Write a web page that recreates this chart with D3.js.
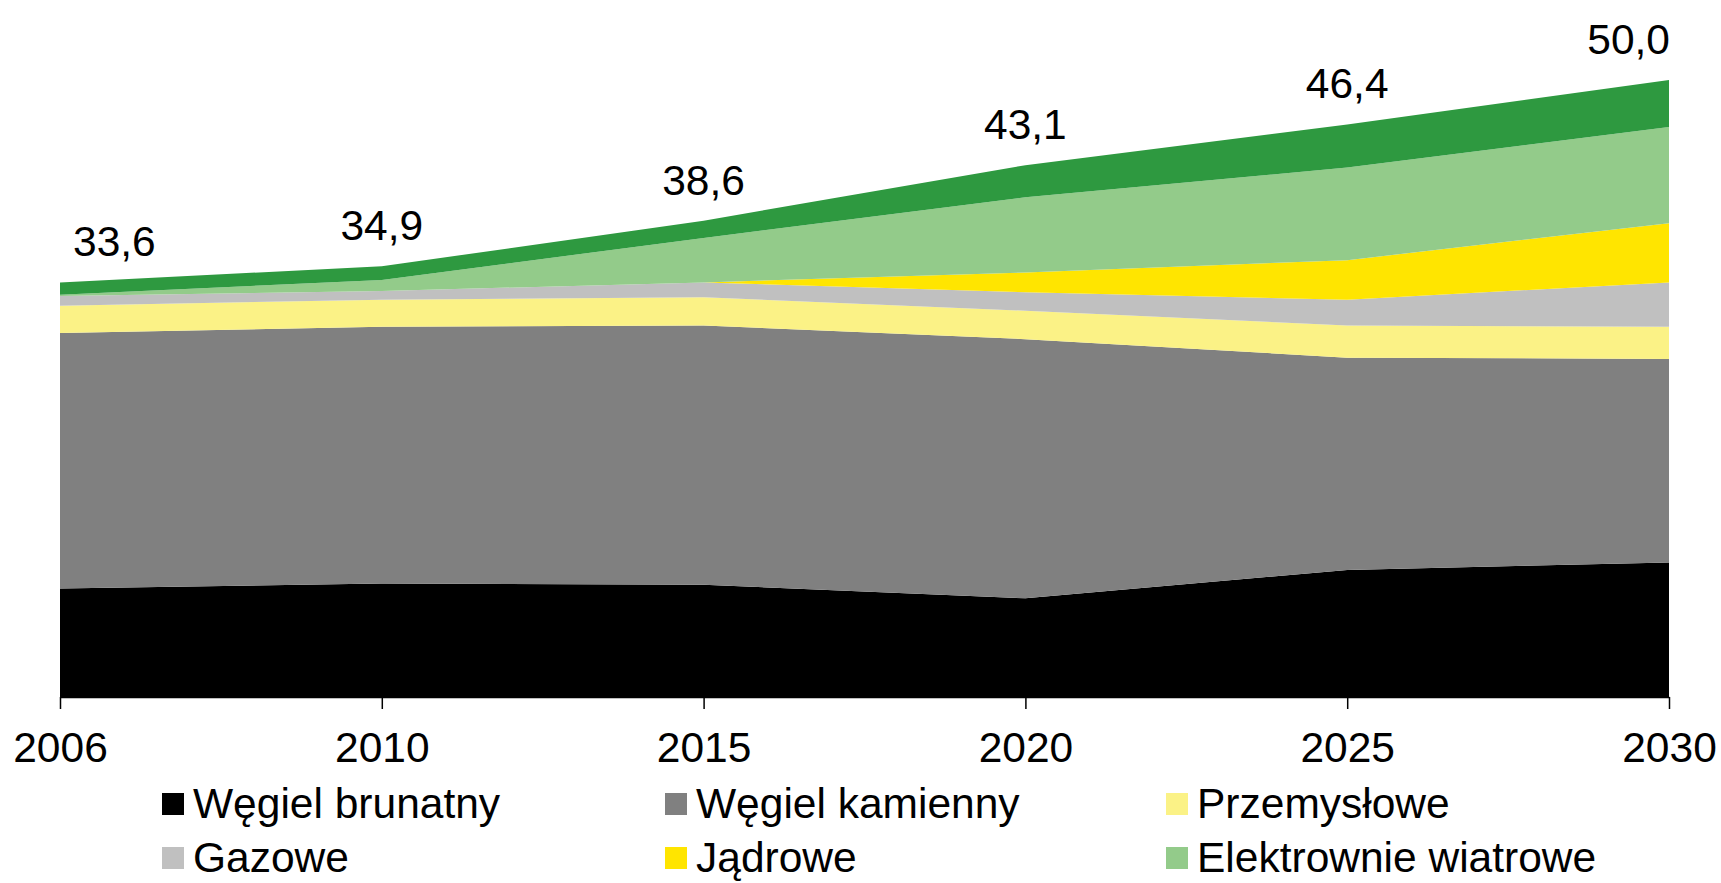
<!DOCTYPE html>
<html>
<head>
<meta charset="utf-8">
<script src="https://cdn.jsdelivr.net/npm/d3@7"></script>
<style>
    body { margin: 0; background: #fff; }
    svg { display: block; }
</style>
</head>
<body>
<div id="chart"></div>
<script>
    const years = ["2006", "2010", "2015", "2020", "2025", "2030"];
    const seriesNames = ["Węgiel brunatny", "Węgiel kamienny", "Przemysłowe", "Gazowe",
        "Jądrowe", "Elektrownie wiatrowe", "Pozostałe OZE"];
    const seriesColors = ["#000000", "#808080", "#fbf286", "#c0c0c0",
        "#ffe500", "#93cb8a", "#2e9940"];

    const wegielBrunatny = [8.8, 9.2, 9.1, 8.0, 10.3, 10.9];
    const wegielKamienny = [20.7, 20.8, 21.0, 21.0, 17.2, 16.5];
    const przemyslowe = [2.2, 2.2, 2.3, 2.3, 2.6, 2.6];
    const gazowe = [0.8, 0.7, 1.2, 1.5, 2.1, 3.6];
    const jadrowe = [0, 0, 0, 1.6, 3.2, 4.8];
    const wiatrowe = [0.1, 0.9, 3.6, 6.1, 7.5, 7.8];
    const pozostaleOze = [1.0, 1.1, 1.4, 2.6, 3.5, 3.8];
    const totalLabels = ["33,6", "34,9", "38,6", "43,1", "46,4", "50,0"];

    const seriesValues = [wegielBrunatny, wegielKamienny, przemyslowe, gazowe,
        jadrowe, wiatrowe, pozostaleOze];

    let width = 1721;
    let height = 883;
    let font = "'Liberation Sans', Arial, sans-serif";

    // one row per year, keys = series names
    let rows = years.map(function (year, i) {
        let row = { year: year };
        seriesNames.forEach(function (name, s) {
            row[name] = seriesValues[s][i];
        });
        return row;
    });

    let stacked = d3.stack().keys(seriesNames)(rows);

    let svg = d3.select("#chart").append("svg")
        .attr("width", width)
        .attr("height", height);

    let xScale = d3.scalePoint()
        .domain(years)
        .range([60, 1669]);

    let yScale = d3.scaleLinear()
        .domain([0, 50])
        .range([697, 80]);

    let area = d3.area()
        .x(function (d) { return xScale(d.data.year); })
        .y0(function (d) { return yScale(d[0]); })
        .y1(function (d) { return yScale(d[1]); });

    svg.selectAll(".layer")
        .data(stacked)
        .enter().append("path")
        .attr("class", "layer")
        .attr("fill", function (d, i) { return seriesColors[i]; })
        .attr("d", area);

    let xAxis = svg.append("g")
        .attr("class", "x-axis")
        .attr("transform", "translate(0," + yScale(0) + ")")
        .call(d3.axisBottom(xScale).tickSize(12).tickSizeOuter(0).tickPadding(23));

    xAxis.select(".domain").attr("stroke", "#000").attr("stroke-width", 1.5);
    xAxis.selectAll(".tick line").attr("stroke", "#000").attr("stroke-width", 1.5);
    xAxis.selectAll("text")
        .style("font-family", font)
        .style("font-size", "42.5px")
        .attr("fill", "#000");

    // total above each year
    let topLayer = stacked[stacked.length - 1];
    svg.selectAll(".total")
        .data(totalLabels)
        .enter().append("text")
        .attr("class", "total")
        .text(function (d) { return d; })
        .attr("x", function (d, i) {
            let x = xScale(years[i]);
            if (i === 0) return x + 13;
            if (i === years.length - 1) return x + 1;
            return x;
        })
        .attr("y", function (d, i) { return yScale(topLayer[i][1]) - 26; })
        .attr("text-anchor", function (d, i) {
            if (i === 0) return "start";
            if (i === years.length - 1) return "end";
            return "middle";
        })
        .style("font-family", font)
        .style("font-size", "42.5px");

    // legend, 3 per row; the last entry falls below the picture
    let legendCols = [162, 665, 1166];
    let legendRows = [818, 872];
    let legend = svg.selectAll(".legend-item")
        .data(seriesNames.slice(0, 6))
        .enter().append("g")
        .attr("class", "legend-item")
        .attr("transform", function (d, i) {
            return "translate(" + legendCols[i % 3] + "," + legendRows[Math.floor(i / 3)] + ")";
        });

    legend.append("rect")
        .attr("x", 0)
        .attr("y", -25)
        .attr("width", 22)
        .attr("height", 22)
        .attr("fill", function (d, i) { return seriesColors[i]; });

    legend.append("text")
        .attr("x", 31)
        .attr("y", 0)
        .text(function (d) { return d; })
        .style("font-family", font)
        .style("font-size", "42.5px");
</script>
</body>
</html>
